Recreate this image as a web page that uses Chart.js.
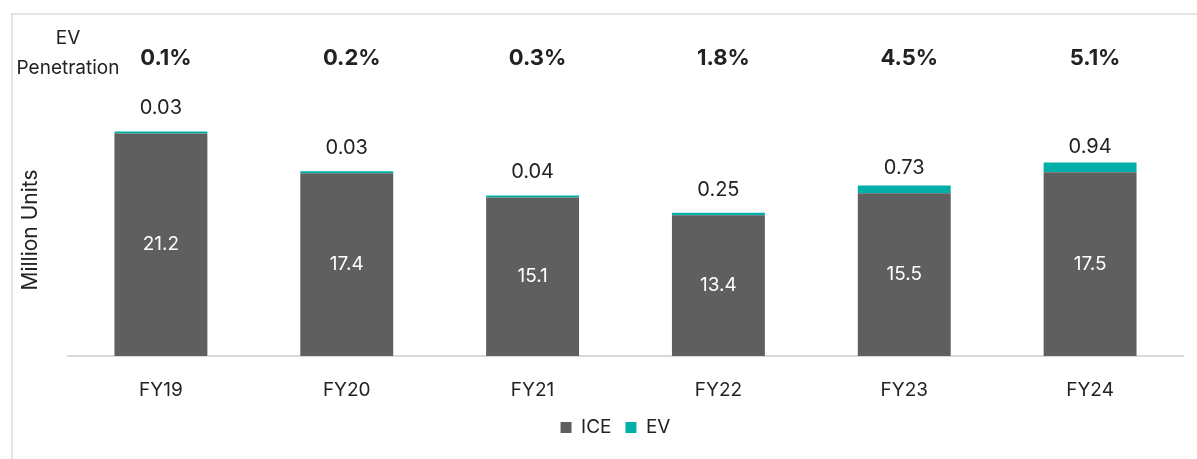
<!DOCTYPE html>
<html lang="en">
<head>
<meta charset="utf-8"/>
<title>ICE vs EV units</title>
<script src="https://cdn.jsdelivr.net/npm/chart.js@4/dist/chart.umd.min.js"></script>
<style>
  html, body { margin: 0; padding: 0; background: #fff; }
</style>
</head>
<body>
<canvas id="myChart" width="1197" height="459"></canvas>
<script>
  const years = ["FY19", "FY20", "FY21", "FY22", "FY23", "FY24"];
  const iceUnits = [21.2, 17.4, 15.1, 13.4, 15.5, 17.5];
  const evUnits = [0.03, 0.03, 0.04, 0.25, 0.73, 0.94];
  const evPenetration = ["0.1%", "0.2%", "0.3%", "1.8%", "4.5%", "5.1%"];

  Chart.defaults.font.family = "Inter, 'Noto Sans', sans-serif";
  Chart.defaults.color = "#222";

  // labels on the bars, the penetration row and the frame lines
  const annotate = {
    id: "annotate",
    afterLayout(chart) {
      // the legend sits a little right of the canvas centre
      chart.legend.left += 48;
    },
    beforeDraw(chart) {
      const ctx = chart.ctx;
      ctx.save();
      ctx.strokeStyle = "#e4e4e4";
      ctx.lineWidth = 2;
      ctx.beginPath();
      ctx.moveTo(12, 459);
      ctx.lineTo(12, 14);
      ctx.lineTo(1197, 14);
      ctx.stroke();
      ctx.restore();
    },
    afterDatasetsDraw(chart) {
      const ctx = chart.ctx;
      const iceMeta = chart.getDatasetMeta(0);
      ctx.save();
      ctx.textAlign = "center";
      ctx.textBaseline = "middle";
      iceMeta.data.forEach((bar, i) => {
        ctx.font = "19px Inter";
        ctx.fillStyle = "#fff";
        ctx.fillText(iceUnits[i].toFixed(1), bar.x, (bar.y + bar.base) / 2);
        ctx.font = "20px Inter";
        ctx.fillStyle = "#222";
        ctx.fillText(evUnits[i].toFixed(2), bar.x, bar.y - 25);
        ctx.font = "bold 22px Inter";
        ctx.fillText(evPenetration[i], bar.x + 5, 58);
      });
      ctx.font = "19px Inter";
      ctx.fillText("EV", 68, 38);
      ctx.fillText("Penetration", 68, 68);
      ctx.restore();
    }
  };

  new Chart(document.getElementById("myChart"), {
    type: "bar",
    data: {
      labels: years,
      datasets: [
        { label: "ICE", data: iceUnits, backgroundColor: "#5f5f5f", barPercentage: 0.5, categoryPercentage: 1 },
        { label: "EV", data: evUnits, backgroundColor: "#00b0a8", barPercentage: 0.5, categoryPercentage: 1, minBarLength: 2 }
      ]
    },
    options: {
      responsive: false,
      animation: false,
      layout: { padding: { top: 104, right: 14, left: 0, bottom: 12 } },
      plugins: {
        tooltip: { enabled: false },
        legend: {
          position: "bottom",
          labels: { boxWidth: 11, boxHeight: 11, font: { size: 19 }, padding: 14 }
        }
      },
      scales: {
        x: {
          stacked: true,
          grid: { display: false },
          border: { color: "#d9d9d9", width: 2 },
          ticks: { font: { size: 19 }, padding: 15 },
          afterFit(scale) { scale.height = 48; }
        },
        y: {
          stacked: true,
          min: 0,
          max: 24,
          grid: { display: false },
          border: { display: false },
          ticks: { display: false },
          title: { display: true, text: "Million Units", font: { size: 21 }, padding: { top: 18, bottom: 0 } },
          afterFit(scale) { scale.width = 68; }
        }
      }
    },
    plugins: [annotate]
  });
</script>
</body>
</html>
